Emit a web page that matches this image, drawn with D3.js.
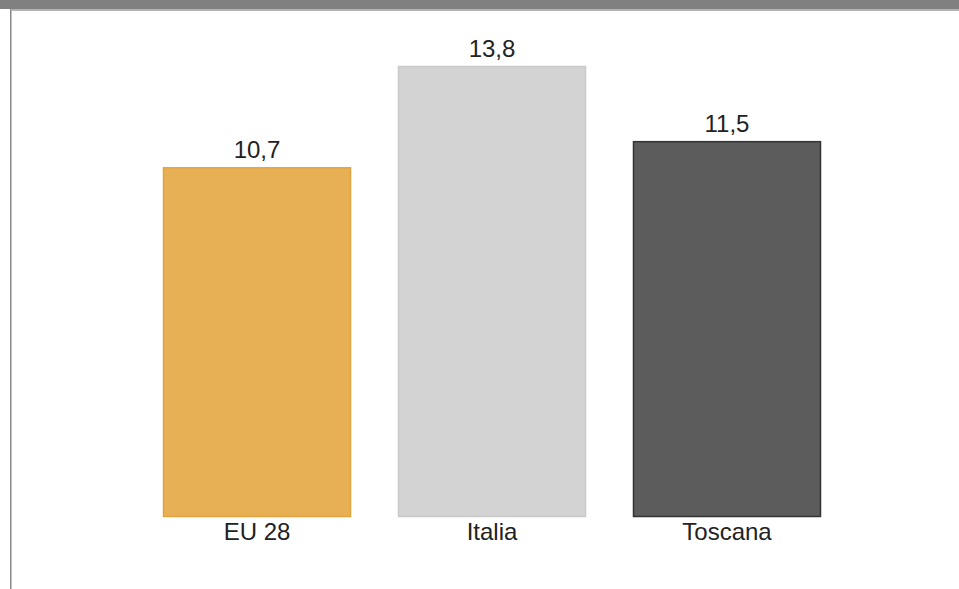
<!DOCTYPE html>
<html>
<head>
<meta charset="utf-8">
<script src="https://cdn.jsdelivr.net/npm/d3@7/dist/d3.min.js"></script>
<style>
html,body{margin:0;padding:0;background:#fff;}
svg{display:block;}
</style>
</head>
<body>
<svg id="chart" width="959" height="589"></svg>
<script>
const categories = ["EU 28", "Italia", "Toscana"];
const values = [10.7, 13.8, 11.5];
const labels = ["10,7", "13,8", "11,5"];
const fills = ["#E8B055", "#D3D3D3", "#5C5C5C"];
const strokes = ["#E2A33C", "#C9C9C9", "#333333"];

const svg = d3.select("#chart");
const W = 959, H = 589;

// frame
svg.append("rect").attr("x",0).attr("y",0).attr("width",W).attr("height",9).attr("fill","#808080");
svg.append("rect").attr("x",10).attr("y",9).attr("width",W-10).attr("height",2).attr("fill","#b4b4b4");
svg.append("rect").attr("x",10).attr("y",9).attr("width",1).attr("height",H-9).attr("fill","#8c8c8c");
svg.append("rect").attr("x",11).attr("y",11).attr("width",1).attr("height",H-11).attr("fill","#c0c0c0");

const x = d3.scaleBand().domain(categories).range([139.5, 844.5]).paddingInner(0.2).paddingOuter(0.1);
const y = d3.scaleLinear().domain([0, 13.8]).range([517, 66]);

const data = categories.map((c,i)=>({c, v:values[i], l:labels[i], f:fills[i], s:strokes[i]}));

svg.selectAll("rect.bar").data(data).enter().append("rect")
  .attr("class","bar")
  .attr("x", d=>x(d.c)+0.5)
  .attr("y", d=>y(d.v)+0.5)
  .attr("width", x.bandwidth()-1)
  .attr("height", d=>y(0)-y(d.v)-1)
  .attr("fill", d=>d.f)
  .attr("stroke", d=>d.s)
  .attr("stroke-width", 1.5);

svg.selectAll("text.val").data(data).enter().append("text")
  .attr("class","val")
  .attr("x", d=>x(d.c)+x.bandwidth()/2)
  .attr("y", d=>y(d.v)-9)
  .attr("text-anchor","middle")
  .attr("font-family","Liberation Sans, Arial, sans-serif")
  .attr("font-size", 24)
  .attr("fill","#222")
  .text(d=>d.l);

const xAxis = d3.axisBottom(x).tickSize(0).tickPadding(6);
const g = svg.append("g").attr("transform",`translate(0,${y(0)})`).call(xAxis);
g.select(".domain").remove();
g.selectAll("text")
  .attr("font-family","Liberation Sans, Arial, sans-serif")
  .attr("font-size", 24)
  .attr("fill","#222")
  .attr("dy","0.71em");
</script>
</body>
</html>
